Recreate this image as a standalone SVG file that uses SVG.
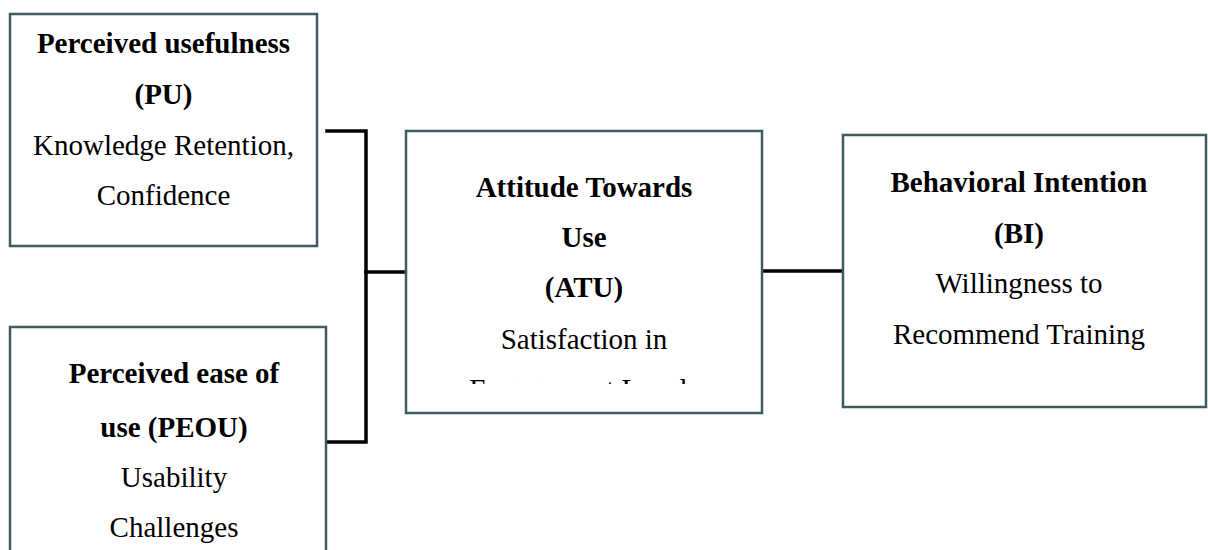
<svg xmlns="http://www.w3.org/2000/svg" width="1208" height="550" viewBox="0 0 1208 550">
<style>
.box{fill:#ffffff;stroke:#3f5a60;stroke-width:2.5}
.t{font-family:"Liberation Serif","Times New Roman",serif;font-size:29px;fill:#000;text-anchor:middle}
.b{font-weight:bold}
.conn{fill:none;stroke:#000;stroke-width:3.5;stroke-linecap:square}
</style>
<defs>
<clipPath id="atuClip"><rect x="406" y="131" width="356" height="253"/></clipPath>
</defs>
<rect width="1208" height="550" fill="#fff"/>
<g id="connectors">
<path class="conn" d="M327,131 H366 V442 H327"/>
<path class="conn" d="M366,272 H405"/>
<path class="conn" d="M763,271 H842"/>
</g>
<g id="node-pu">
<rect class="box" x="10" y="14" width="307" height="232"/>
<text class="t b" x="163.5" y="53">Perceived usefulness</text>
<text class="t b" x="163.5" y="104">(PU)</text>
<text class="t" x="163.5" y="155">Knowledge Retention,</text>
<text class="t" x="163.5" y="205">Confidence</text>
</g>
<g id="node-peou">
<rect class="box" x="10" y="327" width="316" height="240"/>
<text class="t b" x="174" y="383">Perceived ease of</text>
<text class="t b" x="174" y="437">use (PEOU)</text>
<text class="t" x="174" y="487">Usability</text>
<text class="t" x="174" y="537">Challenges</text>
</g>
<g id="node-atu">
<rect class="box" x="406" y="131" width="356" height="282"/>
<text class="t b" x="584" y="197">Attitude Towards</text>
<text class="t b" x="584" y="247">Use</text>
<text class="t b" x="584" y="297">(ATU)</text>
<text class="t" x="584" y="349">Satisfaction in</text>
<text class="t" x="584" y="399" clip-path="url(#atuClip)">Engagement Levels</text>
</g>
<g id="node-bi">
<rect class="box" x="843" y="135" width="363" height="272"/>
<text class="t b" x="1019" y="192">Behavioral Intention</text>
<text class="t b" x="1019" y="243">(BI)</text>
<text class="t" x="1019" y="293">Willingness to</text>
<text class="t" x="1019" y="344">Recommend Training</text>
</g>
</svg>
